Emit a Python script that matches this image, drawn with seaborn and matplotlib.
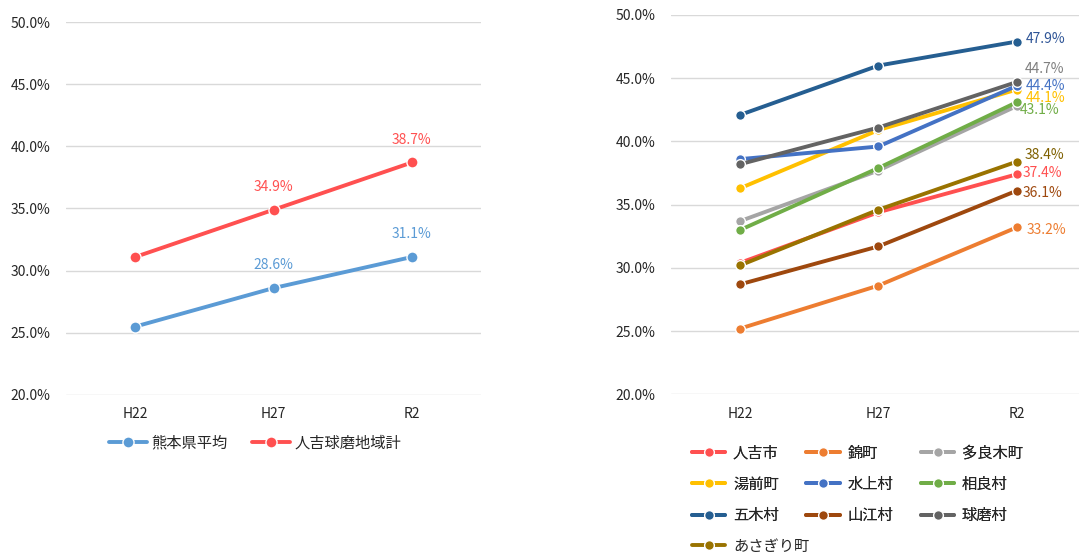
import seaborn as sns
import matplotlib.pyplot as plt
import pandas as pd
from matplotlib.ticker import PercentFormatter

years = ['H22', 'H27', 'R2']

# left chart
left_names = ['熊本県平均', '人吉球磨地域計']
left_values = [
    [25.5, 28.6, 31.1],
    [31.1, 34.9, 38.7],
]
left_colors = ['#5B9BD5', '#FF5050']

# right chart
right_names = ['人吉市', '錦町', '多良木町', '湯前町', '水上村', '相良村',
               '五木村', '山江村', '球磨村', 'あさぎり町']
right_values = [
    [30.4, 34.4, 37.4],
    [25.2, 28.6, 33.2],
    [33.7, 37.7, 42.8],
    [36.3, 40.9, 44.1],
    [38.6, 39.6, 44.4],
    [33.0, 37.9, 43.1],
    [42.1, 46.0, 47.9],
    [28.7, 31.7, 36.1],
    [38.2, 41.1, 44.7],
    [30.2, 34.6, 38.4],
]
right_colors = ['#FF5050', '#ED7D31', '#A5A5A5', '#FFC000', '#4472C4', '#70AD47',
                '#255E91', '#9E480E', '#636363', '#997300']
right_label_colors = ['#FF5050', '#ED7D31', None, '#FFC000', '#4472C4', '#70AD47',
                      '#2F5597', '#9E480E', '#7F7F7F', '#7F6000']
# offset (points) of the R2 value label from its point
right_label_offsets = [(4, 1.2), (7, -1.9), None, (6.5, -5.8), (6.5, 0), (2.5, -5.8),
                       (6.5, 1.7), (4, -1.4), (6, 9.2), (6, 4.8)]


def to_long(names, values):
    rows = []
    for n, vals in zip(names, values):
        for y, v in zip(years, vals):
            rows.append({'year': y, 'value': v, 'area': n})
    return pd.DataFrame(rows)


sns.set_style('white')
plt.rcParams['font.family'] = ['Noto Sans CJK JP', 'DejaVu Sans']

fig = plt.figure(figsize=(10.79, 5.53), dpi=100)
ax1 = fig.add_axes([66 / 1079, 1 - 395 / 553, 415 / 1079, 373 / 553])
ax2 = fig.add_axes([671 / 1079, 1 - 394.3 / 553, 408 / 1079, 379.3 / 553])


def style_axis(ax):
    ax.set_ylim(20, 50)
    ax.set_yticks([20, 25, 30, 35, 40, 45, 50])
    ax.yaxis.set_major_formatter(PercentFormatter(100, decimals=1))
    ax.grid(axis='y', color='#D9D9D9', linewidth=1)
    ax.set_axisbelow(True)
    for s in ax.spines.values():
        s.set_visible(False)
    ax.tick_params(axis='both', length=0, labelsize=10, colors='#262626')
    ax.tick_params(axis='y', pad=11)
    ax.tick_params(axis='x', pad=9)
    ax.set_xlabel('')
    ax.set_ylabel('')


df_left = to_long(left_names, left_values)
sns.lineplot(data=df_left, x='year', y='value', hue='area', palette=left_colors,
             marker='o', markersize=8, markeredgecolor='white', markeredgewidth=1,
             linewidth=2.8, sort=False, ax=ax1)
ax1.set_xlim(-0.5, 2.5)
style_axis(ax1)
for name, vals, c in zip(left_names, left_values, left_colors):
    for i in [1, 2]:
        ax1.annotate(f'{vals[i]:.1f}%', xy=(i, vals[i]), xytext=(0, 16.5),
                     textcoords='offset points', ha='center', va='center',
                     color=c, fontsize=10)
h, l = ax1.get_legend_handles_labels()
ax1.get_legend().remove()
fig.legend(h, l, loc='center', bbox_to_anchor=(255 / 1079, 1 - 443 / 553), ncol=2,
           frameon=False, fontsize=11, handlelength=2.5, handletextpad=0.3,
           columnspacing=1.6)

df_right = to_long(right_names, right_values)
sns.lineplot(data=df_right, x='year', y='value', hue='area', palette=right_colors,
             marker='o', markersize=7, markeredgecolor='white', markeredgewidth=1,
             linewidth=2.8, sort=False, ax=ax2)
ax2.set_xlim(-0.5, 2.45)
style_axis(ax2)
for vals, c, off in zip(right_values, right_label_colors, right_label_offsets):
    if off is None:
        continue
    ax2.annotate(f'{vals[2]:.1f}%', xy=(2, vals[2]), xytext=off,
                 textcoords='offset points', ha='left', va='center',
                 color=c, fontsize=10, annotation_clip=False)
h, l = ax2.get_legend_handles_labels()
ax2.get_legend().remove()
# 3x3 grid, then the last entry on its own row
order = [0, 3, 6, 1, 4, 7, 2, 5, 8]
leg_kw = dict(frameon=False, fontsize=11, handlelength=2.2, handletextpad=0.5,
              columnspacing=1.8, labelspacing=0.92)
leg = fig.legend([h[i] for i in order], [l[i] for i in order], loc='upper left',
                 bbox_to_anchor=(678 / 1079, 1 - 431 / 553), ncol=3, **leg_kw)
fig.add_artist(leg)
fig.legend([h[9]], [l[9]], loc='upper left',
           bbox_to_anchor=(678 / 1079, 1 - 524 / 553), **leg_kw)

fig.savefig('out.png', dpi=100)
